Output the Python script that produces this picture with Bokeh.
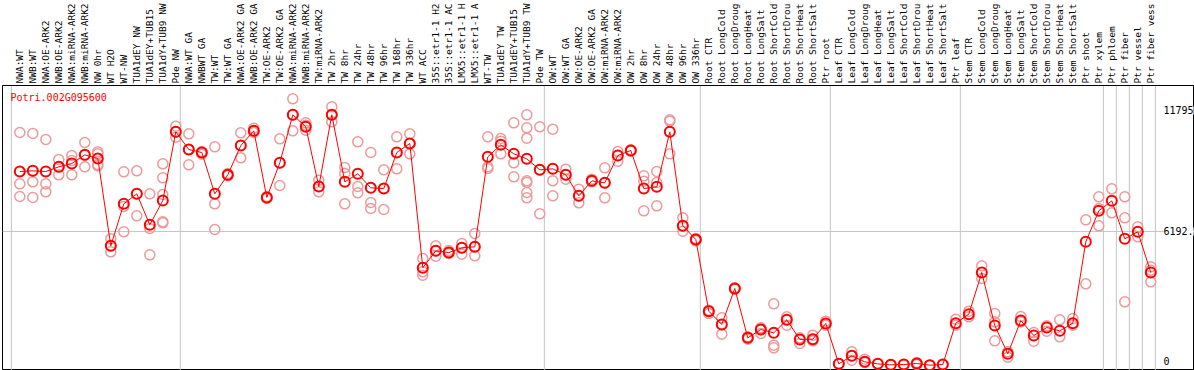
import math
from bokeh.plotting import figure
from bokeh.models import Range1d, Span, ColumnDataSource, LinearAxis, FixedTicker
from bokeh.core.properties import value
from bokeh.embed import file_html
from bokeh.resources import INLINE

title_text = "Potri.002G095600"

labels = [
    "NWA:WT", "NWB:WT", "NWA:OE-ARK2", "NWB:OE-ARK2", "NWA:miRNA-ARK2", "NWB:miRNA-ARK2",
    "NW 0hr", "WT H2O", "WT-NW", "TUA1dEY NW", "TUA1dEY+TUB15", "TUA1dY+TUB9 NW", "Pde NW",
    "NWA:WT GA", "NWBWT GA", "TW:WT", "TW:WT GA", "NWA:OE-ARK2 GA", "NWB:OE-ARK2 GA",
    "TW:OE-ARK2", "TW:OE-ARK2 GA", "NWA:miRNA-ARK2", "NWB:miRNA-ARK2", "TW:miRNA-ARK2",
    "TW 2hr", "TW 8hr", "TW 24hr", "TW 48hr", "TW 96hr", "TW 168hr", "TW 336hr", "WT ACC",
    "35S::etr1-1 H2", "35S::etr1-1 AC", "LMX5::etr1-1 H", "LMX5::etr1-1 A", "WT-TW",
    "TUA1dEY TW", "TUA1dEY+TUB15", "TUA1dY+TUB9 TW", "Pde TW",
    "OW:WT", "OW:WT GA", "OW:OE-ARK2", "OW:OE-ARK2 GA", "OW:miRNA-ARK2", "OW:miRNA-ARK2",
    "OW 2hr", "OW 8hr", "OW 24hr", "OW 48hr", "OW 96hr", "OW 336hr",
    "Root CTR", "Root LongCold", "Root LongDroug", "Root LongHeat", "Root LongSalt",
    "Root ShortCold", "Root ShortDrou", "Root ShortHeat", "Root ShortSalt", "Ptr root",
    "Leaf CTR", "Leaf LongCold", "Leaf LongDroug", "Leaf LongHeat", "Leaf LongSalt",
    "Leaf ShortCold", "Leaf ShortDrou", "Leaf ShortHeat", "Leaf ShortSalt", "Ptr leaf",
    "Stem CTR", "Stem LongCold", "Stem LongDroug", "Stem LongHeat", "Stem LongSalt",
    "Stem ShortCold", "Stem ShortDrou", "Stem ShortHeat", "Stem ShortSalt", "Ptr shoot",
    "Ptr xylem", "Ptr phloem", "Ptr fiber", "Ptr vessel", "Ptr fiber vess",
]

group_sizes = [13, 28, 12, 10, 10, 11, 1, 1, 1, 1]

means = [
    8967, 8998, 8967, 9183, 9338, 9739, 9569, 5526, 7471, 7933, 6498, 7625, 10804,
    9986, 9847, 7933, 8813, 10171, 10850, 7764, 9369, 11591, 11035, 8273,
    11591, 8489, 8860, 8211, 8180, 9847, 10264, 4508, 5294, 5217, 5434, 5480, 9646,
    10202, 9785, 9554, 9045,
    9091, 8813, 7841, 8535, 8443, 9708, 9940, 8180, 8258, 10804, 6452, 5819,
    2501, 1885, 3551, 1267, 1653, 1499, 2100, 1190, 1205, 1931,
    63, 434, 156, 63, 17, 32, 79, 2, 32, 1946,
    2363, 4292, 1838, 526, 2069, 1375, 1745, 1591, 1946, 5711, 7147,
    7609, 5850, 6174, 4292,
]

replicates = [
    [10773, 8397, 7810], [10727, 8489, 7764], [10449, 8397, 8026], [9523, 9183, 8813],
    [9708, 9477, 8813], [10311, 9723, 9183], [9878, 9785, 9291, 9230], [5850, 5526, 5248],
    [8952, 7347, 6174], [8998, 7933, 6915], [7933, 6329, 5109],
    [9322, 8674, 7903, 6637, 6591], [11066, 10804, 10557],
    [10711, 9986, 9276], [9893, 9847, 9770], [10109, 7471, 6282], [8875, 8813, 8767],
    [10758, 10171, 9600], [10974, 10850, 10773], [7810, 7764, 7717], [10480, 9369, 8319],
    [12332, 11591, 10850], [11221, 11113, 10881], [8566, 8273, 8026],
    [11961, 11591, 11267], [9153, 8875, 7471], [10341, 8273, 7980], [9847, 7532, 7254],
    [9045, 8180, 7208], [10572, 9847, 9091], [10711, 10264, 9785], [4940, 4322, 4169],
    [5526, 5294, 5048], [5310, 5217, 5170], [5634, 5434, 5140], [6097, 5480, 5063],
    [10572, 9183, 9106], [10495, 10372, 9785], [11221, 9369, 8721],
    [11591, 10989, 10511, 8535, 8458, 7995, 7748], [11035, 9045, 7008],
    [10927, 8535, 7841], [9075, 8813, 8613], [8150, 7841, 7516], [8613, 8535, 8489],
    [9137, 8443, 7748], [9893, 9708, 9446], [9971, 9940, 9909], [8767, 8520, 7147],
    [8967, 8458, 7378], [11359, 11298, 9785], [6822, 6452, 6205], [5866, 5819, 5757],
    [2548, 2501, 2393], [2193, 1885, 1437], [3582, 3551, 3520], [1313, 1267, 1205],
    [1730, 1653, 1468], [2841, 927, 804], [2239, 2100, 1853], [1267, 1190, 1005],
    [1390, 1205, 1128], [2039, 1931, 1853],
    [63, 63], [619, 434, 233], [279, 156, 125], [63, 63], [17, 17], [32, 32],
    [125, 79, 32], [2, 2], [32, 32], [2131, 1853],
    [2501, 2239], [4600, 4014], [2393, 2008, 1128], [619, 372], [2254, 2008],
    [1514, 1113], [1822, 1576], [2100, 1313], [2162, 1853], [6730, 3767],
    [7795, 7254, 6452],
    [8165, 7054], [7795, 6822, 2933], [6406, 5943], [4554, 4399, 3859],
]

y_tick_values = [0, 6192.5, 11795]
y_tick_labels = ["0", "6192.", "11795"]

FONT = "DejaVu Sans Mono"
GRID = "#c4c4c4"
REP_COLOR = "#ee9a9a"
MEAN_COLOR = "#ff0000"

W, H = 1194, 370
LEFT = 2
p = figure(width=W, height=H, output_backend="svg", toolbar_location=None,
           x_range=Range1d(-1.3308, 90.362), y_range=Range1d(-245, 12949),
           x_axis_location=None, y_axis_location=None,
           min_border=0, min_border_left=LEFT, min_border_right=0, min_border_bottom=0,
           min_border_top=85,
           background_fill_color="white", border_fill_color="white")
p.grid.visible = False
p.outline_line_color = "black"
p.outline_line_width = 1
p.extra_x_ranges = {"px": Range1d(LEFT, W)}

idx = list(range(len(labels)))

# category labels on a top axis, rotated
top = LinearAxis(ticker=FixedTicker(ticks=idx),
                 major_label_overrides={i: lab for i, lab in enumerate(labels)},
                 major_label_orientation=math.pi / 2,
                 major_label_text_font=FONT, major_label_text_font_size="9.5px",
                 major_label_text_color="black", major_label_standoff=2,
                 major_tick_out=0, major_tick_in=0, minor_tick_out=0, minor_tick_in=0,
                 minor_tick_line_color=None, major_tick_line_color=None,
                 axis_line_color="black", axis_line_width=1)
p.add_layout(top, "above")

# group separator gridlines
start = 0
bounds = []
for g in group_sizes:
    bounds.append(start - 0.65)
    start += g
bounds.append(start - 0.65)
for b in bounds:
    p.add_layout(Span(location=b, dimension="height", line_color=GRID, line_width=1, level="underlay"))
p.add_layout(Span(location=y_tick_values[1], dimension="width", line_color=GRID, line_width=1, level="underlay"))

# replicates
rx, ry = [], []
for i, reps in enumerate(replicates):
    for v in reps:
        rx.append(i)
        ry.append(v)
p.scatter(x=rx, y=ry, marker="circle", size=10, fill_color=None, line_color=REP_COLOR, line_width=1.5)

# mean line + markers
src = ColumnDataSource(dict(x=idx, y=means))
p.line("x", "y", source=src, line_color=MEAN_COLOR, line_width=1)
p.scatter("x", "y", source=src, marker="circle", size=10, fill_color=None, line_color=MEAN_COLOR, line_width=2)

# value labels on the right
p.text(x=[87.98] * 2, y=y_tick_values[1:], text=y_tick_labels[1:], text_font=value(FONT),
       text_font_size="10px", text_align="left", text_baseline="middle", text_color="black",
       background_fill_color="white")
p.text(x=[87.98], y=y_tick_values[:1], text=y_tick_labels[:1], text_font=value(FONT),
       text_font_size="10px", text_align="left", text_baseline="bottom", text_color="black")

# title
p.text(x=[10], y=[12394], text=[title_text], x_range_name="px",
       text_font=value(FONT), text_font_size="10px", text_align="left", text_baseline="middle",
       text_color=MEAN_COLOR)

open("out.html", "w").write(file_html(p, INLINE))
